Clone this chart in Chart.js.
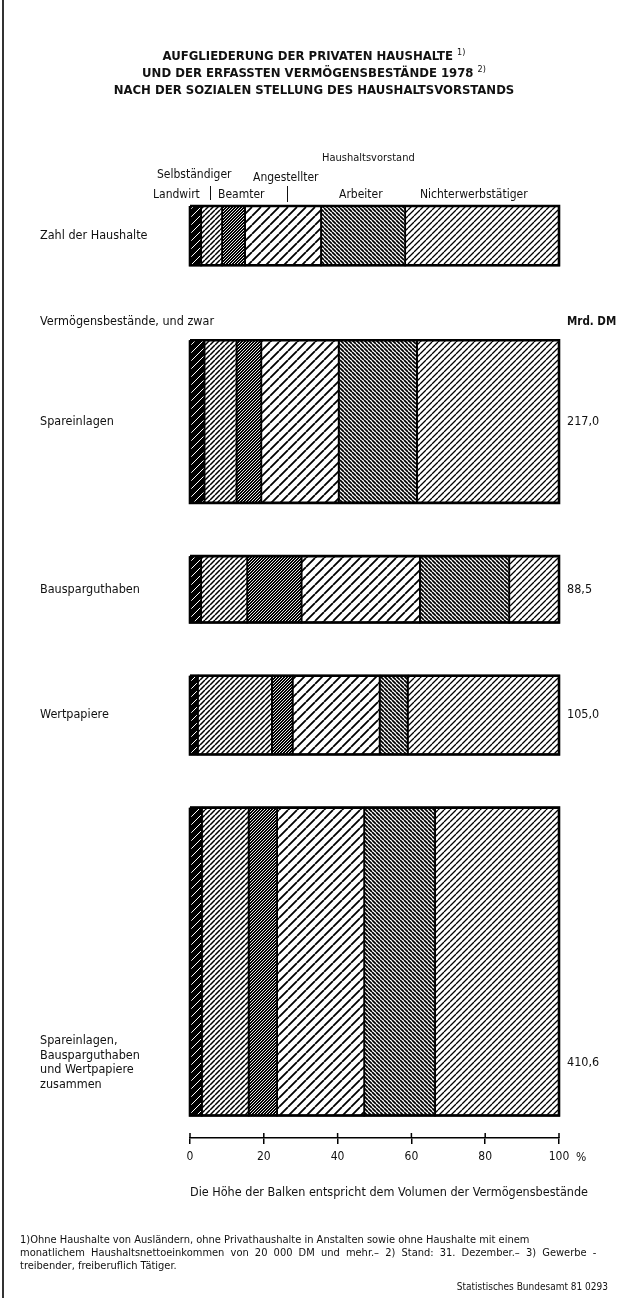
<!DOCTYPE html>
<html>
<head>
<meta charset="utf-8">
<script src="https://cdn.jsdelivr.net/npm/chart.js"></script>
<style>
  body { margin: 0; background: #fff; }
  #wrap { position: relative; width: 628px; height: 1298px; overflow: hidden;
          font-family: 'Liberation Sans Narrow', 'DejaVu Sans Condensed', 'Roboto', sans-serif; color: #111; }
  #wrap canvas { position: absolute; left: 0; top: 0; }
  .t { position: absolute; white-space: nowrap; line-height: 1; transform: translateY(-50%); }
  .title { left: 0; width: 628px; text-align: center; font-weight: bold; font-size: 13px; }
  .title sup { font-size: 9px; font-weight: normal; vertical-align: 5px; }
  .hd { font-size: 12px; }
  .fn { font-size: 11px; left: 20px; }
  .bar { position: absolute; width: 1.3px; background: #111; }
</style>
</head>
<body>
<div id="wrap">
  <canvas id="chart" width="628" height="1298"></canvas>

  <div class="t title" style="top:55px">AUFGLIEDERUNG DER PRIVATEN HAUSHALTE <sup>1)</sup></div>
  <div class="t title" style="top:72px">UND DER ERFASSTEN VERMÖGENSBESTÄNDE 1978 <sup>2)</sup></div>
  <div class="t title" style="top:89px">NACH DER SOZIALEN STELLUNG DES HAUSHALTSVORSTANDS</div>

  <div class="t hd" style="left:322px; top:157px; font-size:11px">Haushaltsvorstand</div>
  <div class="t hd" style="left:157px; top:174px">Selbständiger</div>
  <div class="t hd" style="left:253px; top:177px">Angestellter</div>
  <div class="t hd" style="left:153px; top:194px">Landwirt</div>
  <div class="t hd" style="left:218px; top:194px">Beamter</div>
  <div class="t hd" style="left:339px; top:194px">Arbeiter</div>
  <div class="t hd" style="left:420px; top:194px">Nichterwerbstätiger</div>
  <div class="bar" style="left:210px; top:186px; height:14px"></div>
  <div class="bar" style="left:287px; top:186px; height:16px"></div>

  <div class="t hd" style="left:40px; top:321px; font-size:12.5px">Vermögensbestände, und zwar</div>
  <div class="t hd" style="left:567px; top:322px; font-weight:bold; font-size:11.5px">Mrd. DM</div>
  <div class="t hd" style="left:576px; top:1157px">%</div>

  <div class="t hd" style="left:190px; top:1192px; font-size:12.5px">Die Höhe der Balken entspricht dem Volumen der Vermögensbestände</div>

  <div class="t fn" style="top:1239px">1)Ohne Haushalte von Ausländern, ohne Privathaushalte in Anstalten sowie ohne Haushalte mit einem</div>
  <div class="t fn" style="top:1252px; word-spacing:3px">monatlichem Haushaltsnettoeinkommen von 20 000 DM und mehr.– 2) Stand: 31. Dezember.– 3) Gewerbe -</div>
  <div class="t fn" style="top:1265px">treibender, freiberuflich Tätiger.</div>
  <div class="t fn" style="left:auto; right:20px; top:1287px; font-size:10px">Statistisches Bundesamt 81 0293</div>

  <div style="position:absolute; left:2px; top:0; width:1.5px; height:1298px; background:#333"></div>
</div>

<script>
(function () {
    // groups of the head of household, left to right
    const groups = ['Landwirt', 'Selbständiger', 'Beamter', 'Angestellter', 'Arbeiter', 'Nichterwerbstätiger'];

    // shares in % per row
    const households = [3.0, 5.7, 6.2, 20.6, 22.8, 41.7];
    const savingsDeposits = [3.9, 8.7, 6.7, 21.0, 21.2, 38.5];
    const buildingSavings = [3.0, 12.5, 14.7, 32.1, 24.2, 13.5];
    const securities = [2.1, 20.1, 5.6, 23.6, 7.6, 41.0];
    const combined = [3.2, 12.7, 7.7, 23.6, 19.2, 33.6];

    // asset volumes in Mrd. DM -> bar heights
    const volumes = [217.0, 88.5, 105.0, 410.6];

    const rowLabels = [
        'Zahl der Haushalte',
        'Spareinlagen',
        'Bausparguthaben',
        'Wertpapiere',
        ['Spareinlagen,', 'Bausparguthaben', 'und Wertpapiere', 'zusammen'],
    ];
    const xTicks = [0, 20, 40, 60, 80, 100];

    // layout, in the same units as the volumes
    const householdRowUnits = 79;
    const firstGapUnits = 100;
    const gapUnits = 71;
    const axisGapUnits = 30;
    const labelShift = [0, 0, 0, 0, 135];

    const shares = [households, savingsDeposits, buildingSavings, securities, combined];
    const heights = [householdRowUnits, ...volumes];

    // row tops / bottoms on the (reversed) y scale
    const rows = [];
    let pos = 0;
    heights.forEach((h, i) => {
        if (i === 1) pos += firstGapUnits;
        else if (i > 1) pos += gapUnits;
        rows.push({ top: pos, bottom: pos + h });
        pos += h;
    });
    const yMax = pos + axisGapUnits;
    const labelPos = rows.map((r, i) => (r.top + r.bottom) / 2 + labelShift[i]);

    function hatch(bg, fg, size, width, dir) {
        const c = document.createElement('canvas');
        c.width = c.height = size;
        const g = c.getContext('2d');
        g.fillStyle = bg;
        g.fillRect(0, 0, size, size);
        g.strokeStyle = fg;
        g.lineWidth = width;
        g.beginPath();
        for (const o of [-size, 0, size]) {
            if (dir === '/') { g.moveTo(o, size); g.lineTo(o + size, 0); }
            else { g.moveTo(o, 0); g.lineTo(o + size, size); }
        }
        g.stroke();
        return g.createPattern(c, 'repeat');
    }

    const patterns = [
        hatch('#000', '#fff', 8, 1, '/'),     // Landwirt
        hatch('#fff', '#000', 5, 1.5, '/'),   // Selbständiger
        hatch('#000', '#fff', 3, 0.9, '/'),   // Beamter
        hatch('#fff', '#000', 9, 1.8, '/'),   // Angestellter
        hatch('#fff', '#000', 4, 1.7, '\\'),  // Arbeiter
        hatch('#fff', '#000', 6, 1.3, '/'),   // Nichterwerbstätiger
    ];

    const rect = (x0, x1, y0, y1) => [
        { x: x0, y: y0 }, { x: x1, y: y0 }, { x: x1, y: y1 }, { x: x0, y: y1 }, { x: x0, y: y0 },
    ];

    const datasets = [];
    // outline of each bar (drawn on top)
    rows.forEach(r => {
        datasets.push({
            data: rect(0, 100, r.top, r.bottom),
            showLine: true, fill: false, borderColor: '#000', borderWidth: 2.6,
            pointRadius: 0, clip: false, borderJoinStyle: 'miter',
        });
    });
    shares.forEach((values, ri) => {
        let start = 0;
        values.forEach((v, gi) => {
            datasets.push({
                label: groups[gi],
                data: rect(start, start + v, rows[ri].top, rows[ri].bottom),
                showLine: true, fill: 'shape', backgroundColor: patterns[gi],
                borderColor: '#000', borderWidth: 1.8, pointRadius: 0, clip: false,
                borderJoinStyle: 'miter',
            });
            start += v;
        });
    });

    const fontFamily = "'Liberation Sans Narrow', 'DejaVu Sans Condensed', 'Roboto', sans-serif";

    // short tick marks above the x axis line as well
    const crossTicks = {
        id: 'crossTicks',
        afterDraw(chart) {
            const x = chart.scales.x;
            const g = chart.ctx;
            g.save();
            g.strokeStyle = '#000';
            g.lineWidth = 1.5;
            g.beginPath();
            x.ticks.forEach(t => {
                const px = x.getPixelForValue(t.value);
                g.moveTo(px, chart.chartArea.bottom);
                g.lineTo(px, chart.chartArea.bottom - 5);
            });
            g.stroke();
            g.restore();
        },
    };

    new Chart(document.getElementById('chart'), {
        type: 'scatter',
        data: { datasets },
        plugins: [crossTicks],
        options: {
            responsive: false,
            animation: false,
            layout: { padding: { top: 206, right: 0, bottom: 120, left: 40 } },
            plugins: { legend: { display: false }, tooltip: { enabled: false } },
            scales: {
                x: {
                    type: 'linear', min: 0, max: 100,
                    afterBuildTicks: s => { s.ticks = xTicks.map(v => ({ value: v })); },
                    afterFit: s => { s.height = 40; },
                    ticks: { color: '#111', padding: 6, font: { family: fontFamily, size: 12 } },
                    grid: { drawOnChartArea: false, tickLength: 6, color: '#000', lineWidth: 1.5 },
                    border: { color: '#000', width: 1.5 },
                },
                y: {
                    type: 'linear', reverse: true, min: 0, max: yMax, position: 'left',
                    afterBuildTicks: s => { s.ticks = labelPos.map(v => ({ value: v })); },
                    afterFit: s => { s.width = 150; },
                    ticks: {
                        autoSkip: false, crossAlign: 'far', color: '#111',
                        callback: (v, i) => rowLabels[i],
                        font: { family: fontFamily, size: 12.5, lineHeight: 1.18 },
                    },
                    grid: { display: false, drawTicks: false },
                    border: { display: false },
                },
                y2: {
                    type: 'linear', reverse: true, min: 0, max: yMax, position: 'right',
                    afterBuildTicks: s => { s.ticks = labelPos.slice(1).map(v => ({ value: v })); },
                    afterFit: s => { s.width = 69; },
                    ticks: {
                        autoSkip: false, crossAlign: 'near', padding: 8, color: '#111',
                        callback: (v, i) => volumes[i].toFixed(1).replace('.', ','),
                        font: { family: fontFamily, size: 12.5 },
                    },
                    grid: { display: false, drawTicks: false },
                    border: { display: false },
                },
            },
        },
    });
})();
</script>
</body>
</html>
